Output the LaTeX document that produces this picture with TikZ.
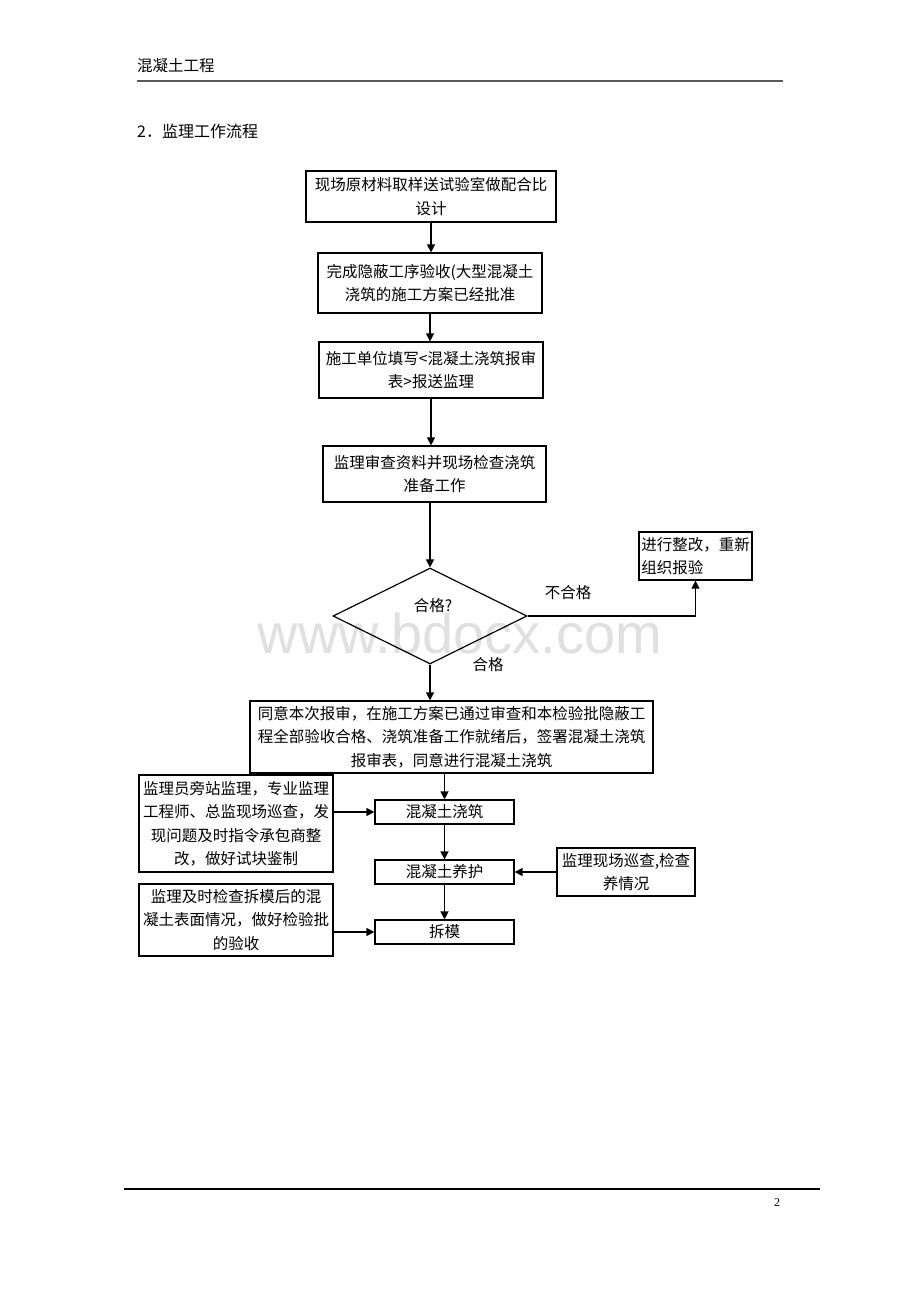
\documentclass[tikz,border=0pt]{standalone}
\usepackage{fontspec}
\setmainfont{Noto Sans CJK SC}
\newfontfamily\wmfont{Liberation Sans}
\newfontfamily\numfont{Liberation Serif}
\usetikzlibrary{shapes.geometric,arrows.meta}
\begin{document}
\begin{tikzpicture}[x=1pt,y=-1pt,
  every node/.style={font=\fontsize{15.5}{23.5}\selectfont, inner sep=0pt},
  bx/.style={draw=black, line width=1.2pt, align=center, fill=white},
  conn/.style={line width=1.3pt, -{Triangle[length=8pt,width=8pt]}},
  plain/.style={line width=1.3pt}]
\useasboundingbox (0,0) rectangle (920,1302);
\fill[white] (0,0) rectangle (920,1302);
% watermark
\node[font=\wmfont\fontsize{56}{60}\selectfont, text=black!12] (wm) at (460,633) {www.bdocx.com};
% header / footer
\node[anchor=west] (hdr) at (137,66) {混凝土工程};
\coordinate (hl1) at (137,81);
\coordinate (hl2) at (783,81);
\draw[line width=1.8pt, black!65] (hl1) -- (hl2);
\node[anchor=west, font=\fontsize{16}{20}\selectfont] (ttl) at (137,131) {2．监理工作流程};
\coordinate (fl1) at (124,1189);
\coordinate (fl2) at (820,1189);
\draw[line width=1.3pt] (fl1) -- (fl2);
\node[font=\numfont\fontsize{12}{14}\selectfont] (pg) at (777,1203) {2};
% boxes
\node[bx, minimum width=250pt, minimum height=51pt] (b1) at (431,196.5) {现场原材料取样送试验室做配合比\\设计};
\node[bx, minimum width=224pt, minimum height=60pt] (b2) at (430,283) {完成隐蔽工序验收(大型混凝土\\浇筑的施工方案已经批准};
\node[bx, minimum width=224pt, minimum height=56pt] (b3) at (431,370) {施工单位填写<混凝土浇筑报审\\表>报送监理};
\node[bx, minimum width=223pt, minimum height=56pt] (b4) at (434.5,474) {监理审查资料并现场检查浇筑\\准备工作};
\node[draw=black, line width=1.2pt, shape=diamond, minimum width=194pt, minimum height=96pt, aspect=2] (d) at (430,616) {};
\node (dt) at (433,606) {合格?};
\node[bx, align=left, minimum width=113pt, minimum height=48pt] (b5) at (695.5,556) {进行整改，重新\\组织报验};
\node (ng) at (568,593) {不合格};
\node (ok) at (488,665) {合格};
\node[bx, minimum width=403pt, minimum height=72pt] (b6) at (451.5,737) {同意本次报审，在施工方案已通过审查和本检验批隐蔽工\\程全部验收合格、浇筑准备工作就绪后，签署混凝土浇筑\\报审表，同意进行混凝土浇筑};
\node[bx, minimum width=139pt, minimum height=24pt] (b7) at (444.5,812) {混凝土浇筑};
\node[bx, minimum width=139pt, minimum height=24pt] (b8) at (444.5,872) {混凝土养护};
\node[bx, minimum width=139pt, minimum height=24pt] (b9) at (444.5,932) {拆模};
\node[bx, minimum width=194pt, minimum height=97pt] (bA) at (236,823.5) {监理员旁站监理，专业监理\\工程师、总监现场巡查，发\\现问题及时指令承包商整\\改，做好试块鉴制};
\node[bx, minimum width=138pt, minimum height=48pt] (bB) at (626,872) {监理现场巡查,检查\\养情况};
\node[bx, minimum width=194pt, minimum height=72pt] (bC) at (236,920) {监理及时检查拆模后的混\\凝土表面情况，做好检验批\\的验收};
% connectors
\draw[conn] (b1.south) -- (b1.south |- b2.north);
\draw[conn] (b2.south) -- (b2.south |- b3.north);
\draw[conn] (b3.south) -- (b3.south |- b4.north);
\draw[conn] (b4.south -| d.north) -- (d.north);
\draw[conn] (d.east) -| (b5.south);
\draw[conn] (d.south) -- (d.south |- b6.north);
\draw[conn] (b7.north |- b6.south) -- (b7.north);
\draw[conn] (b7.south) -- (b8.north);
\draw[conn] (b8.south) -- (b9.north);
\draw[conn] (bA.east |- b7.west) -- (b7.west);
\draw[conn] (bB.west |- b8.east) -- (b8.east);
\draw[conn] (bC.east |- b9.west) -- (b9.west);
\end{tikzpicture}
\end{document}
